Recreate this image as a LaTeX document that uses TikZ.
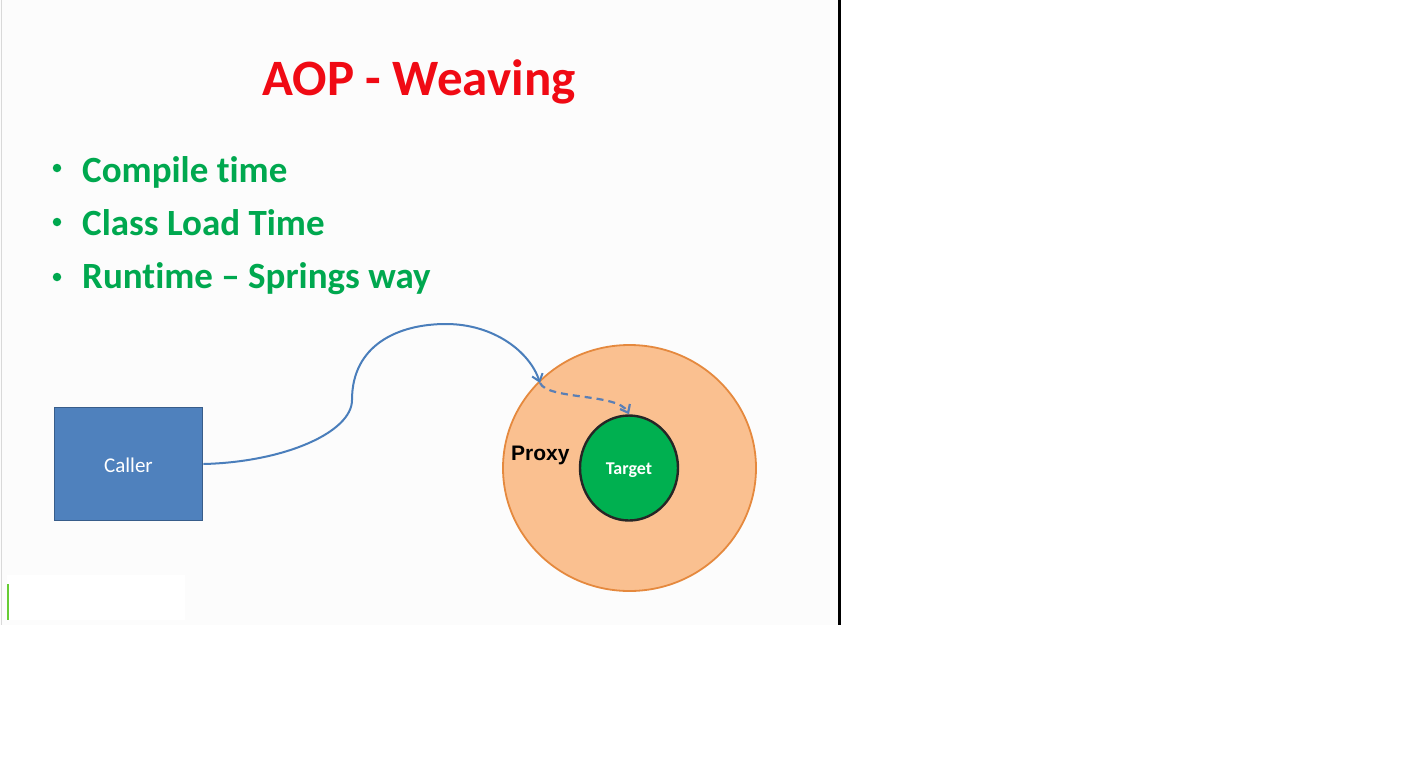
\documentclass[tikz,border=0pt]{standalone}
\usepackage{fontspec}
\setmainfont[Ligatures=NoCommon]{Carlito}
\newfontfamily\arialfont{Liberation Sans}
\usetikzlibrary{arrows.meta,shapes.geometric}

\definecolor{titlered}{HTML}{F00A14}
\definecolor{bulletgreen}{HTML}{00A84F}
\definecolor{callerblue}{HTML}{4F81BD}
\definecolor{callerborder}{HTML}{385D8A}
\definecolor{proxyfill}{HTML}{FAC090}
\definecolor{proxyborder}{HTML}{E5893E}
\definecolor{targetfill}{HTML}{00B050}
\definecolor{linkblue}{HTML}{4A7EBB}
\definecolor{dashblue}{HTML}{5A7FB5}
\definecolor{slidebg}{HTML}{FCFCFC}

\tikzset{
  bullettext/.style={anchor=base west, inner sep=0pt, text=bulletgreen,
    font=\fontsize{37}{40}\selectfont\bfseries},
  bulletdot/.style={circle, fill=bulletgreen, minimum size=8.5pt, inner sep=0pt},
  link/.style={draw=linkblue, line width=2pt, -{Straight Barb[length=7pt,width=11pt]}},
  dashlink/.style={draw=dashblue, line width=2.2pt, dash pattern=on 7pt off 5pt,
    -{Straight Barb[length=7pt,width=11pt]}},
}

\begin{document}
\begin{tikzpicture}[x=1pt, y=-1pt]
  % page and slide area
  \useasboundingbox (0,0) rectangle (1421,777);
  \fill[white] (0,0) rectangle (1421,777);
  \fill[slidebg] (0,0) rectangle (838,625);
  \fill[white] (7,575) rectangle (185,620);
  \draw[gray!30, line width=1pt] (1,0) -- (1,625);
  \draw[black, line width=3pt] (839.5,0) -- (839.5,625);
  \draw[green!50!olive!80, line width=2pt] (8,584) -- (8,620);

  % title
  \node[anchor=base, inner sep=0pt, text=titlered,
        font=\fontsize{51}{56}\selectfont\bfseries] (title) at (419,95) {AOP - Weaving};

  % bullet list
  \node[bulletdot] (d1) at (57,168) {};
  \node[bulletdot] (d2) at (57,222) {};
  \node[bulletdot] (d3) at (57,277) {};
  \node[bullettext] (b1) at (82,182) {Compile time};
  \node[bullettext] (b2) at (82,235) {Class Load Time};
  \node[bullettext] (b3) at (82,288) {Runtime – Springs way};

  % caller box
  \node[draw=callerborder, line width=1.8pt, fill=callerblue, minimum width=148pt,
        minimum height=113pt, inner sep=0pt] (caller) at (128.5,464) {};
  \node[anchor=base, inner sep=0pt, text=white, font=\fontsize{21}{24}\selectfont]
        (callerlabel) at (128.5,472) {Caller};

  % proxy and target
  \node[ellipse, draw=proxyborder, line width=1.8pt, fill=proxyfill,
        minimum width=253pt, minimum height=246pt, inner sep=0pt] (proxy) at (629.5,468) {};
  \node[ellipse, draw=black!85, line width=2.4pt, fill=targetfill,
        minimum width=98pt, minimum height=105pt, inner sep=0pt] (target) at (629,468) {};
  \node[anchor=base, inner sep=0pt, text=white, font=\fontsize{18}{20}\selectfont\bfseries]
        (targetlabel) at (629,474) {Target};
  \node[anchor=base west, inner sep=0pt, text=black, font=\arialfont\fontsize{21}{24}\selectfont\bfseries]
        (proxylabel) at (511,460) {Proxy};

  % call path: caller -> proxy -> target
  \coordinate (entry) at (540,383);
  \coordinate (bend) at (352,400);
  \coordinate (top) at (446,324);
  \draw[link] (caller.east) .. controls (285,462) and (352,432) .. (bend)
              .. controls (352,345) and (398,324) .. (top)
              .. controls (494,324) and (530,352) .. (entry);
  \draw[dashlink] (entry) .. controls (548,400) and (618,393) .. (target.north);
\end{tikzpicture}
\end{document}
